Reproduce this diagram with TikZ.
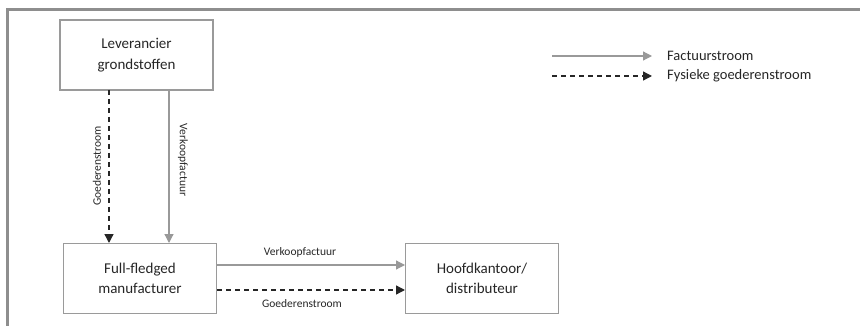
\documentclass[tikz,border=0pt]{standalone}
\usepackage{fontspec}
\setmainfont{Carlito}
\usetikzlibrary{arrows.meta}
\definecolor{framegray}{HTML}{8E8E8E}
\definecolor{boxgray}{HTML}{9A9A9A}
\definecolor{flowgray}{HTML}{999999}
\definecolor{txt}{HTML}{262626}
\tikzset{
  box/.style={draw=boxgray, line width=1.5pt, minimum width=153pt, minimum height=70pt,
    align=center, font=\fontsize{15}{20.5}\selectfont, text=txt, inner sep=0pt},
  invoice/.style={draw=flowgray, line width=1.2pt, -{Triangle[length=9pt,width=9pt]}},
  goods/.style={draw=black!85, line width=1.3pt, dash pattern=on 5pt off 4pt,
    -{Triangle[length=9pt,width=9pt]}},
  lbl/.style={font=\fontsize{11.5}{13}\selectfont, text=txt, inner sep=0pt},
  legtxt/.style={font=\fontsize{14.5}{17}\selectfont, text=txt, anchor=west, inner sep=0pt}
}
\begin{document}
\begin{tikzpicture}[x=1pt, y=-1pt]
  \useasboundingbox (0,0) rectangle (860,326);
  % outer frame: left and top edges
  \draw[framegray, line width=3pt] (7.5,326) -- (7.5,9.5) -- (860,9.5);

  % parties
  \node[box] (sup) at (136.5,55) {Leverancier\\grondstoffen};
  \node[box] (ffm) at (140,278.5) {Full-fledged\\manufacturer};
  \node[box] (hq)  at (482,278.5) {Hoofdkantoor/\\distributeur};

  % supplier -> manufacturer
  \coordinate (s1) at (109,90);  \coordinate (m1) at (109,243);
  \coordinate (s2) at (169,90);  \coordinate (m2) at (169,243);
  \draw[goods] (s1) -- (m1);
  \draw[invoice] (s2) -- (m2);
  \node[lbl, rotate=90] (lg1) at (97,166) {Goederenstroom};
  \node[lbl, rotate=-90] (lv1) at (183,160) {Verkoopfactuur};

  % manufacturer -> head office
  \coordinate (f1) at (217,265); \coordinate (h1) at (405,265);
  \coordinate (f2) at (217,290); \coordinate (h2) at (405,290);
  \draw[invoice] (f1) -- (h1);
  \draw[goods] (f2) -- (h2);
  \node[lbl] (lv2) at (300,252) {Verkoopfactuur};
  \node[lbl] (lg2) at (302,304) {Goederenstroom};

  % legend
  \coordinate (a1) at (552,56); \coordinate (b1) at (652,56);
  \coordinate (a2) at (552,76); \coordinate (b2) at (652,76);
  \draw[invoice] (a1) -- (b1);
  \draw[goods] (a2) -- (b2);
  \node[legtxt] (t1) at (667,56) {Factuurstroom};
  \node[legtxt] (t2) at (667,75.5) {Fysieke goederenstroom};
\end{tikzpicture}
\end{document}
